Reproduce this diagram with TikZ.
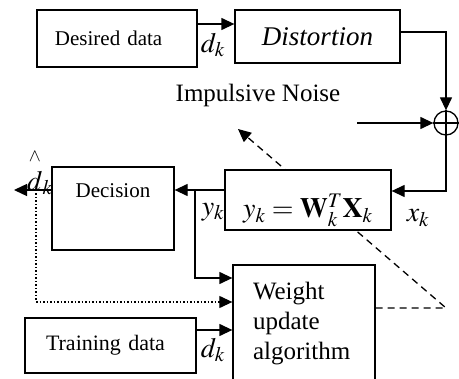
\documentclass[tikz,border=0pt]{standalone}
\usepackage{amsmath}
\usepackage{mathptmx}
\usepackage[no-math]{fontspec}
\setmainfont{Liberation Serif}
\usetikzlibrary{arrows.meta,positioning,backgrounds}
\tikzset{
  blk/.style={draw,line width=1.3pt,fill=white,inner sep=0pt},
  wire/.style={line width=1.3pt},
  lnk/.style={wire,-{Triangle[length=13pt,width=12pt]}},
  fnt/.style={font=\fontsize{#1}{#1}\selectfont},
}
\begin{document}
\begin{tikzpicture}[x=1pt,y=-1pt]
  \useasboundingbox (0,0) rectangle (459,379);
  \clip (0,0) rectangle (459,379);
  % blocks
  \node[blk,fnt=21,minimum width=160pt,minimum height=57pt,text width=124pt,inner xsep=18pt,align=left] (desired) at (117,38.5) {Desired data};
  \node[blk,fnt=27,minimum width=165pt,minimum height=53pt] (distortion) at (317.5,36.5) {\itshape Distortion};
  \node[draw,circle,wire,minimum size=24pt,inner sep=0pt] (sum) at (446,123) {};
  \draw[wire] (sum.north) -- (sum.south) (sum.west) -- (sum.east);
  \node[blk,fnt=28,minimum width=166pt,text height=48pt,text depth=12pt] (filter) at (308,200)
    {$y_k=\mathbf{W}_k^T\mathbf{X}_k$};
  \node[blk,fnt=21,minimum width=122pt,inner ysep=17pt,text height=14pt,text depth=35pt] (decision) at (113,208.5) {Decision};
  \node[blk,minimum width=142pt,minimum height=118pt,text width=102pt,inner xsep=20pt,align=left,
    font=\fontsize{25}{30}\selectfont] (weight) at (304,324) {Weight\\update\\algorithm};
  \node[blk,fnt=22,minimum width=171pt,minimum height=55pt,text width=129pt,inner xsep=21pt,align=left] (training) at (110.5,345.5) {Training data};
  % free ends
  \coordinate (nz) at (357,123);
  \coordinate (br) at (195,190);
  \coordinate (dout) at (14,190);
  \coordinate (tap) at (36,190);
  \coordinate (corner) at (446,308);
  \coordinate (tip) at (238,129);
  % connectors
  \draw[lnk] ([yshift=14.5pt]desired.east) -- ([yshift=14.5pt]desired.east -| distortion.west);
  \draw[lnk] ([yshift=4.5pt]distortion.east) -| (sum.north);
  \draw[lnk] (nz) -- (sum.west);
  \draw[lnk] (sum.south) |- ([yshift=9pt]filter.east);
  \draw[lnk] ([yshift=10pt]filter.west) -- (br -| decision.east);
  \draw[lnk] (br -| decision.west) -- (dout);
  \draw[lnk] (br) |- ([yshift=46pt]weight.west);
  \draw[lnk,dash pattern=on 1.5pt off 2pt,line width=1.2pt] (tap) |- ([yshift=22pt]weight.west);
  \draw[lnk] ([yshift=-6pt]weight.west -| training.east) -- ([yshift=-6pt]weight.west);
  \begin{scope}[on background layer]
    \draw[lnk,dash pattern=on 7pt off 5pt] ([yshift=16pt]weight.east) -- (corner) -- (tip);
  \end{scope}
  % labels
  \node[fnt=25] (noise) at (258,95) {Impulsive Noise};
  \node[fnt=28] (ldk) at (213,45) {$d_k$};
  \node[fnt=28] (lyk) at (213,212) {$y_k$};
  \node[fnt=28] (lxk) at (418,218) {$x_k$};
  \node[fnt=28] (ltk) at (213,350) {$d_k$};
  \node[fnt=28] (lhat) at (40,172) {$\overset{\raisebox{4pt}{\fontsize{18}{18}\selectfont$\wedge$}}{d}_k$};
\end{tikzpicture}
\end{document}
